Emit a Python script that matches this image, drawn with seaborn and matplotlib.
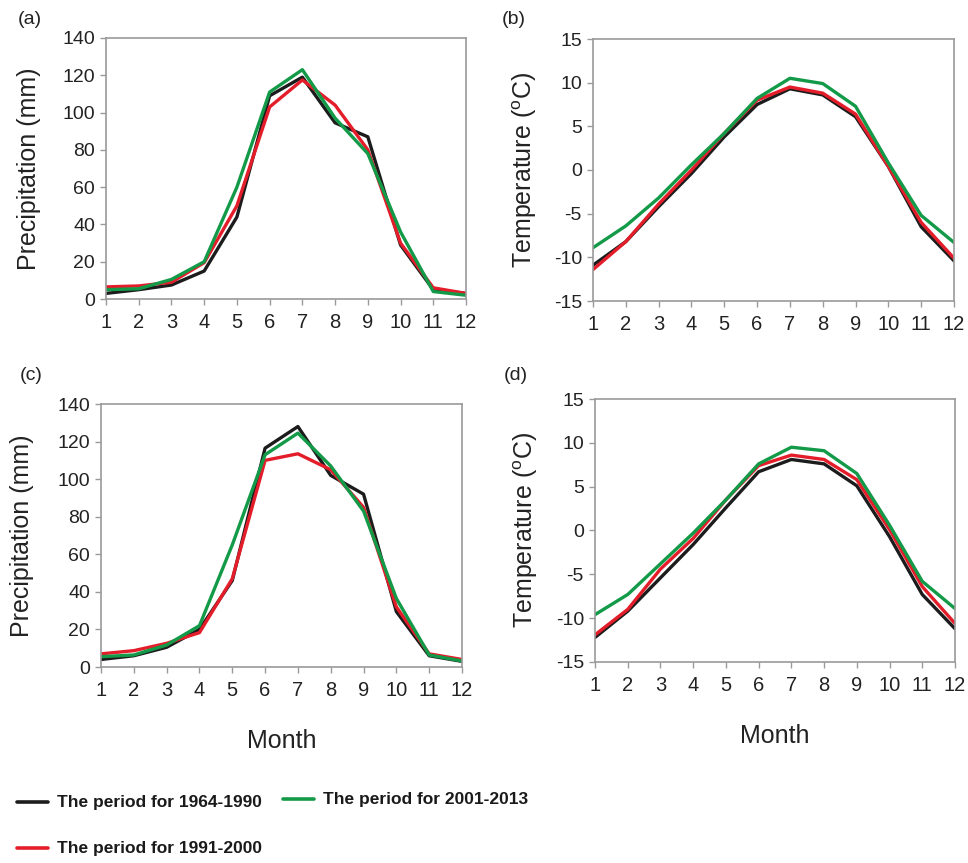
import numpy as np
import pandas as pd
import matplotlib
matplotlib.use("Agg")
import matplotlib.pyplot as plt
from matplotlib.lines import Line2D
import seaborn as sns

months = list(range(1, 13))
periods = ["The period for 1964-1990", "The period for 1991-2000", "The period for 2001-2013"]

# Panel (a) precipitation
prec_a_1964 = [3, 5, 7.5, 15, 44, 109, 119, 94.5, 87, 29, 5, 3]
prec_a_1991 = [6.5, 7, 9, 19.5, 50, 103, 117.5, 104, 80, 30, 6, 3]
prec_a_2001 = [5, 5.5, 10.5, 20, 60, 111, 123, 97, 78, 36, 4, 2]
# Panel (b) temperature
temp_b_1964 = [-10.9, -8.2, -4.2, -0.4, 3.8, 7.5, 9.3, 8.6, 6.1, 0.4, -6.5, -10.4]
temp_b_1991 = [-11.4, -8.2, -3.9, 0.0, 4.2, 8.0, 9.5, 8.8, 6.4, 0.4, -6.0, -10.1]
temp_b_2001 = [-8.9, -6.4, -3.2, 0.6, 4.2, 8.2, 10.5, 9.9, 7.3, 0.8, -5.2, -8.3]
# Panel (c) precipitation
prec_c_1964 = [4, 6, 10.5, 20, 46, 116.5, 128, 102, 92, 29.5, 6, 3]
prec_c_1991 = [7, 8.7, 12.6, 18.3, 47, 110, 113.5, 105, 85, 32, 7, 4]
prec_c_2001 = [5.5, 6.4, 11.7, 22, 65, 113, 124.5, 107, 83, 36.5, 6.4, 3.2]
# Panel (d) temperature
temp_d_1964 = [-12.2, -9.2, -5.4, -1.6, 2.6, 6.7, 8.1, 7.6, 5.1, -0.7, -7.3, -11.2]
temp_d_1991 = [-11.9, -9.0, -4.4, -0.9, 3.5, 7.4, 8.6, 8.1, 5.8, 0.1, -6.4, -10.6]
temp_d_2001 = [-9.6, -7.3, -3.8, -0.3, 3.5, 7.6, 9.5, 9.1, 6.5, 0.6, -5.8, -8.9]

colors = ["#1c1c1c", "#e31e2a", "#139a48"]

sns.set_style("white")
plt.rcParams["font.family"] = ["Liberation Sans", "DejaVu Sans"]
plt.rcParams["axes.unicode_minus"] = False

def long_df(series):
    rows = []
    for p, vals in zip(periods, series):
        for m, v in zip(months, vals):
            rows.append({"Month": m, "Value": v, "Period": p})
    return pd.DataFrame(rows)

fig = plt.figure(figsize=(9.68, 8.63), dpi=100)
W, H = 968, 863
def rect(l, r, t, b):
    return [l / W, 1 - b / H, (r - l) / W, (b - t) / H]

panels = [
    ("(a)", rect(106, 466, 38, 299), [prec_a_1964, prec_a_1991, prec_a_2001], "prec", False, (18, 19), 15),
    ("(b)", rect(593, 954, 39, 301), [temp_b_1964, temp_b_1991, temp_b_2001], "temp", False, (502, 19), 10.5),
    ("(c)", rect(101, 462, 404, 667), [prec_c_1964, prec_c_1991, prec_c_2001], "prec", True, (20, 375), 17),
    ("(d)", rect(595, 955, 399, 662), [temp_d_1964, temp_d_1991, temp_d_2001], "temp", True, (504, 375), 11.5),
]

for lab, r, series, kind, show_x, lpos, lpad in panels:
    ax = fig.add_axes(r)
    df = long_df(series)
    sns.lineplot(data=df, x="Month", y="Value", hue="Period", palette=colors,
                 linewidth=2.4, legend=False, ax=ax)
    ax.set_xlim(1, 12)
    ax.set_xticks(months)
    if kind == "prec":
        ax.set_ylim(0, 140)
        ax.set_yticks(range(0, 141, 20))
        ax.set_ylabel("Precipitation (mm)", fontsize=18, color="#222222", labelpad=lpad)
    else:
        ax.set_ylim(-15, 15)
        ax.set_yticks(range(-15, 16, 5))
        ax.set_ylabel("Temperature ($\\mathregular{^{o}}$C)", fontsize=18, color="#222222", labelpad=lpad)
    ax.set_xlabel("Month" if show_x else "", fontsize=18, color="#222222", labelpad=21)
    for s in ax.spines.values():
        s.set_color("#9a9a9a")
        s.set_linewidth(1.2)
    ax.tick_params(axis="x", direction="out", length=4, width=1, color="#9a9a9a",
                   labelsize=14.5, labelcolor="#222222", pad=6, bottom=True)
    ax.tick_params(axis="y", direction="out", length=4, width=1, color="#9a9a9a",
                   labelsize=14, labelcolor="#222222", pad=4, left=True)
    fig.text(lpos[0] / W, 1 - lpos[1] / H, lab, fontsize=14, color="#222222",
             ha="left", va="center")

# legend
leg_items = [(17, 802, 0), (17, 848, 1), (283, 799, 2)]
for x0, y0, i in leg_items:
    fig.add_artist(Line2D([x0 / W, (x0 + 31) / W], [1 - y0 / H, 1 - y0 / H],
                          color=colors[i], linewidth=2.6, transform=fig.transFigure))
    fig.text((x0 + 40) / W, 1 - y0 / H, periods[i], fontsize=12.5, fontweight="bold",
             color="#1a1a1a", ha="left", va="center")

fig.savefig("out.png", dpi=100)
